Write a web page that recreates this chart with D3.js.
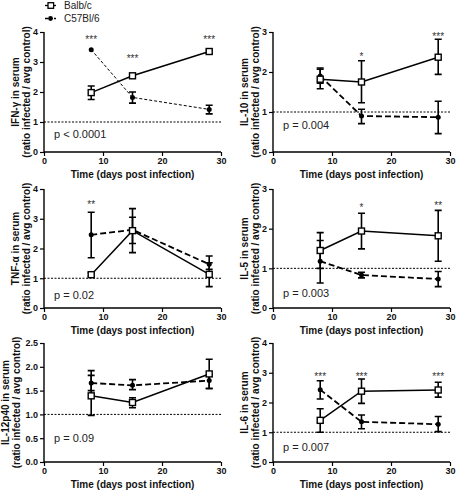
<!DOCTYPE html>
<html>
<head>
<meta charset="utf-8">
<script src="https://cdn.jsdelivr.net/npm/d3@7"></script>
<style>
  html, body { margin: 0; padding: 0; background: #fff; }
  svg { display: block; }
  text { font-family: Arial, "Liberation Sans", sans-serif; }
</style>
</head>
<body>
<svg id="chart" width="459" height="492"></svg>
<script>
// ---------------- data ----------------
const days = [8, 15, 28];
const xTicks = [0, 10, 20, 30];
const cytokines = ["IFN-γ", "IL-10", "TNF-α", "IL-5", "IL-12p40", "IL-6"];
const yMaxes = [4, 3, 4, 3, 2.5, 4];
const yTickStep = [1, 1, 1, 1, 0.5, 1];
const seriesNames = ["Balb/c", "C57Bl/6"];

const balbMean = [[1.98, 2.54, 3.35], [1.82, 1.75, 2.37], [1.12, 2.60, 1.13], [1.45, 1.94, 1.82], [1.39, 1.25, 1.85], [1.40, 2.38, 2.42]];
const balbLow  = [[1.75, 2.48, 3.29], [1.58, 1.23, 1.94], [1.06, 1.86, 0.72], [1.00, 1.49, 1.18], [0.98, 1.14, 1.54], [1.00, 1.97, 2.18]];
const balbHigh = [[2.20, 2.60, 3.40], [2.10, 2.28, 2.82], [1.18, 3.34, 1.52], [1.90, 2.39, 2.46], [1.92, 1.35, 2.16], [1.79, 2.79, 2.68]];

const c57Mean = [[3.41, 1.82, 1.42], [1.90, 0.90, 0.87], [2.46, 2.63, 1.47], [1.18, 0.83, 0.73], [1.66, 1.61, 1.71], [2.43, 1.35, 1.27]];
const c57Low  = [[3.41, 1.63, 1.27], [1.72, 0.71, 0.46], [1.69, 2.17, 1.30], [0.63, 0.76, 0.54], [1.50, 1.52, 1.55], [2.12, 1.12, 1.02]];
const c57High = [[3.41, 2.00, 1.56], [2.07, 1.07, 1.27], [3.22, 3.05, 1.75], [1.70, 0.90, 0.92], [1.82, 1.73, 1.81], [2.73, 1.58, 1.53]];

const stars = [["***", "***", "***"], ["", "*", "***"], ["**", "", ""], ["", "*", "**"], ["", "", ""], ["***", "***", "***"]];
const starLevel = [[3.85, 3.2, 3.85], [0, 2.45, 2.95], [3.55, 0, 0], [0, 2.6, 2.65], [0, 0, 0], [2.95, 2.95, 2.95]];
const pValues = ["p < 0.0001", "p = 0.004", "p = 0.02", "p = 0.003", "p = 0.09", "p = 0.007"];
const pLevel = [0.6, 0.67, 0.43, 0.38, 0.51, 0.5];
const controlLevel = 1;

// ---------------- layout ----------------
const cols = [[44, 221], [273, 450]];
const rows = [[32, 152], [189, 308], [343, 462]];

const svg = d3.select("#chart");

// legend
const legend = svg.append("g");
seriesNames.forEach((name, i) => {
  const ly = 5.5 + i * 13;
  legend.append("line").attr("x1", 45).attr("x2", 56).attr("y1", ly).attr("y2", ly)
    .attr("stroke", "#000").attr("stroke-width", 1.3)
    .attr("stroke-dasharray", i === 0 ? null : "3,1.5");
  if (i === 0) {
    legend.append("rect").attr("x", 48).attr("y", ly - 2.8).attr("width", 5.6).attr("height", 5.6)
      .attr("fill", "#fff").attr("stroke", "#000").attr("stroke-width", 1.3);
  } else {
    legend.append("circle").attr("cx", 50.5).attr("cy", ly).attr("r", 2.4).attr("fill", "#000");
  }
  legend.append("text").attr("x", 64).attr("y", ly + 3.6).attr("font-size", 10)
    .attr("fill", "#222").text(name);
});

cytokines.forEach((cyt, k) => {
  const [x0, x1] = cols[k % 2];
  const [yTop, yBot] = rows[Math.floor(k / 2)];
  const x = d3.scaleLinear().domain([0, 30]).range([x0, x1]);
  const y = d3.scaleLinear().domain([0, yMaxes[k]]).range([yBot, yTop]);
  const g = svg.append("g");

  // axes
  const yt = d3.range(0, yMaxes[k] + 1e-9, yTickStep[k]);
  const yFmt = yTickStep[k] < 1 ? d3.format(".1f") : d3.format("d");
  const yAxis = d3.axisLeft(y).tickValues(yt).tickSize(4).tickPadding(2).tickFormat(yFmt);
  const xAxis = d3.axisBottom(x).tickValues(xTicks).tickSize(4).tickPadding(2).tickFormat(d3.format("d"));
  const gy = g.append("g").attr("transform", `translate(${x0},0)`).call(yAxis);
  const gx = g.append("g").attr("transform", `translate(0,${yBot})`).call(xAxis);
  [gx, gy].forEach(a => {
    a.attr("font-family", null).attr("font-size", null);
    a.select(".domain").attr("stroke-width", 1.4).attr("stroke", "#000");
    a.selectAll(".tick line").attr("stroke-width", 1.2).attr("stroke", "#000");
    a.selectAll(".tick text").attr("font-size", 9).attr("font-weight", "bold")
      .attr("fill", "#111");
  });
  gy.select(".domain").attr("d", `M-0,${yTop}V${yBot}`);
  gx.select(".domain").attr("d", `M${x0},0H${x1}`);

  // axis titles
  g.append("text").attr("x", (x0 + x1) / 2).attr("y", yBot + 26)
    .attr("text-anchor", "middle").attr("font-size", 10).attr("font-weight", "bold")
    .attr("fill", "#111").text("Time (days post infection)");
  const maxChars = d3.max(yt, v => yFmt(v).length);
  const shift = (maxChars - 1) * 5;
  const yl = g.append("text")
    .attr("transform", `translate(${x0 - 25 - shift},${(yTop + yBot) / 2}) rotate(-90)`)
    .attr("text-anchor", "middle").attr("font-size", 10).attr("font-weight", "bold").attr("fill", "#111");
  yl.append("tspan").attr("x", 0).attr("y", 0).text(cyt + " in serum");
  yl.append("tspan").attr("x", 0).attr("y", 11).text("(ratio infected / avg control)");

  // control line
  g.append("line").attr("x1", x(0)).attr("x2", x(30)).attr("y1", y(controlLevel)).attr("y2", y(controlLevel))
    .attr("stroke", "#000").attr("stroke-width", 1).attr("stroke-dasharray", "2,1.5");

  // p value
  g.append("text").attr("x", x0 + 10).attr("y", y(pLevel[k]) + 4)
    .attr("font-size", 11).attr("fill", "#222").text(pValues[k]);

  // series
  const series = [
    { mean: balbMean[k], lo: balbLow[k], hi: balbHigh[k], dash: null, w: 1.5 },
    { mean: c57Mean[k], lo: c57Low[k], hi: c57High[k], dash: k === 0 ? "3,2" : "6,3", w: k === 0 ? 1 : 1.8 }
  ];
  const line = d3.line().x(d => x(d[0])).y(d => y(d[1]));
  [1, 0].forEach(si => {
    const s = series[si];
    const pts = days.map((d, i) => [d, s.mean[i]]);
    g.append("path").attr("d", line(pts)).attr("fill", "none").attr("stroke", "#000")
      .attr("stroke-width", s.w).attr("stroke-dasharray", s.dash);
    days.forEach((d, i) => {
      if (s.hi[i] - s.lo[i] > 0.001) {
        const cx = x(d);
        g.append("path")
          .attr("d", `M${cx},${y(s.lo[i])}V${y(s.hi[i])}M${cx - 3.5},${y(s.lo[i])}H${cx + 3.5}M${cx - 3.5},${y(s.hi[i])}H${cx + 3.5}`)
          .attr("stroke", "#000").attr("stroke-width", 1.6).attr("fill", "none");
      }
    });
  });
  [1, 0].forEach(si => {
    const s = series[si];
    days.forEach((d, i) => {
      if (si === 0) {
        g.append("rect").attr("x", x(d) - 3).attr("y", y(s.mean[i]) - 3).attr("width", 6).attr("height", 6)
          .attr("fill", "#fff").attr("stroke", "#000").attr("stroke-width", 1.4);
      } else {
        g.append("circle").attr("cx", x(d)).attr("cy", y(s.mean[i])).attr("r", 2.5).attr("fill", "#000");
      }
    });
  });

  // significance stars
  days.forEach((d, i) => {
    if (stars[k][i]) {
      g.append("text").attr("x", x(d)).attr("y", y(starLevel[k][i]) + 6)
        .attr("text-anchor", "middle").attr("font-size", 10).attr("fill", "#333").text(stars[k][i]);
    }
  });
});
</script>
</body>
</html>
